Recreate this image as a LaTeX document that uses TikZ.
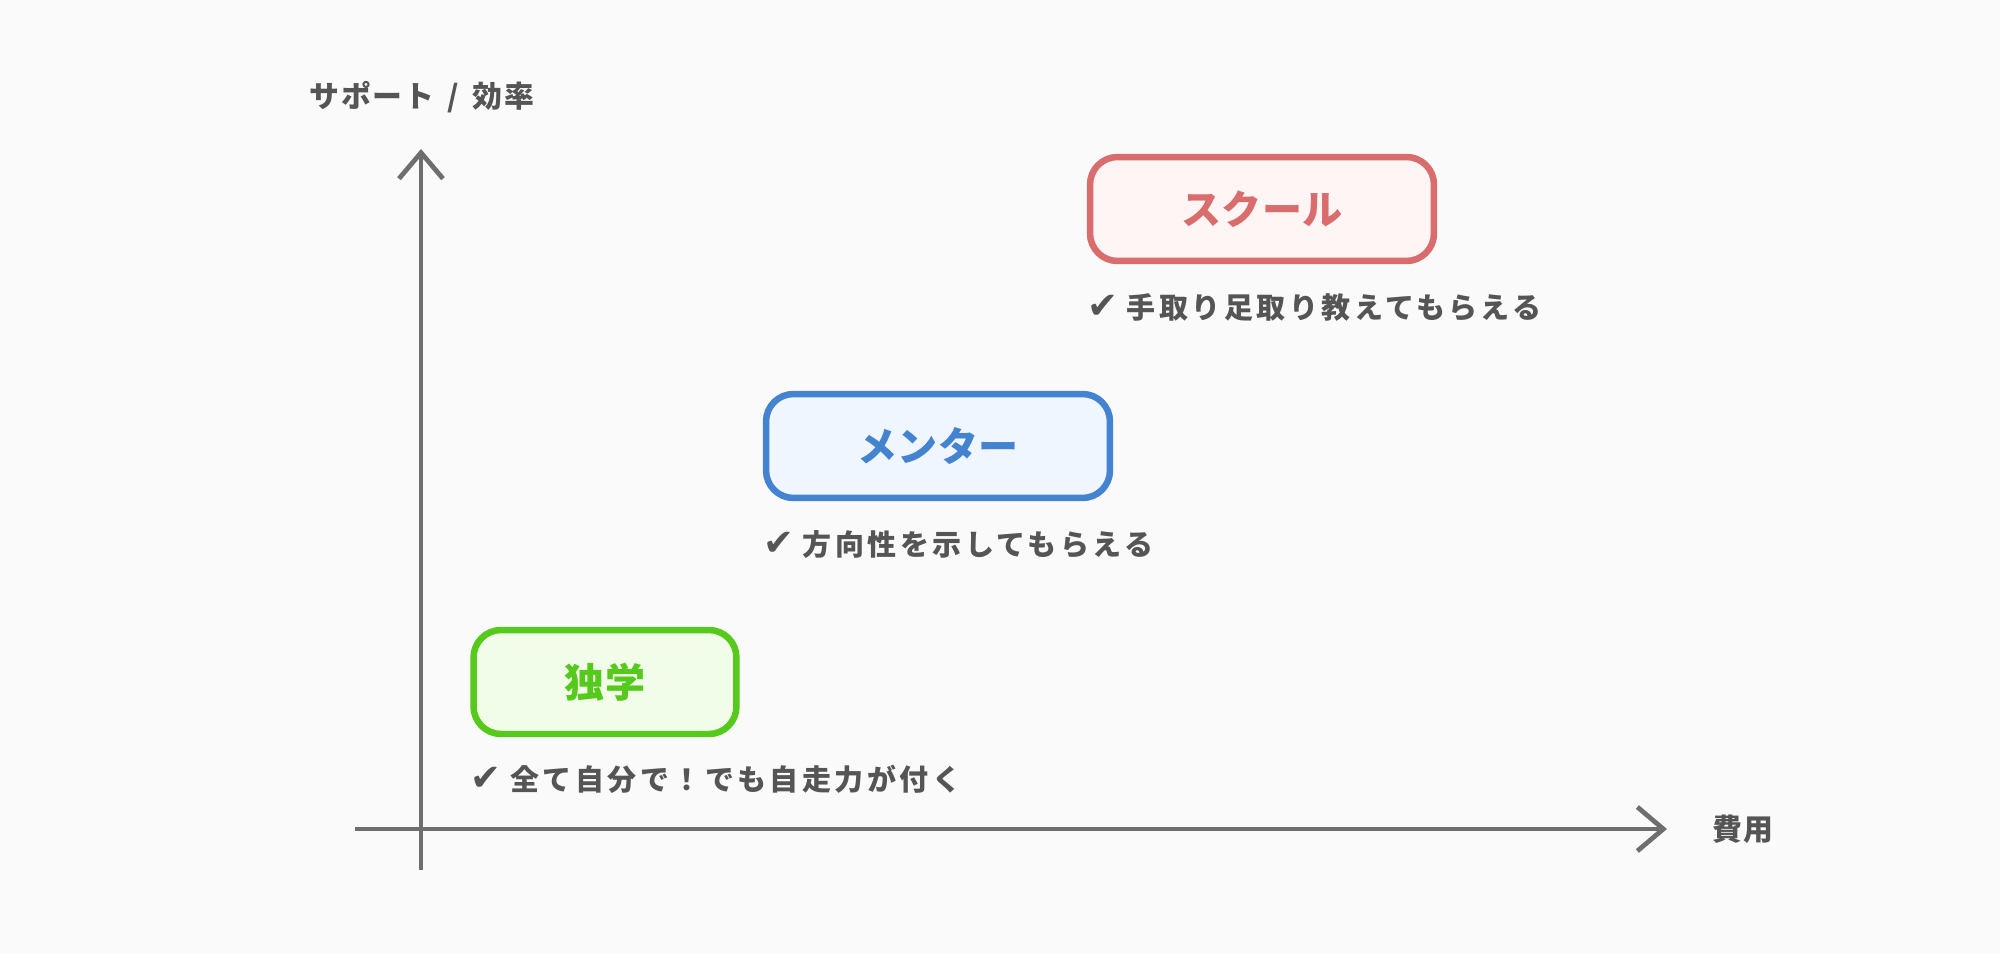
\documentclass[tikz,border=0pt]{standalone}
\usepackage{fontspec}
\usetikzlibrary{arrows.meta,positioning}
\newfontfamily\jpfont{Noto Sans CJK JP Black}
\newfontfamily\symfont{DejaVu Sans}
\definecolor{schoolred}{HTML}{D96C6C}
\definecolor{schoolfill}{HTML}{FFF5F5}
\definecolor{mentorblue}{HTML}{4383CF}
\definecolor{mentorfill}{HTML}{EFF6FF}
\definecolor{selfgreen}{HTML}{55C91C}
\definecolor{selffill}{HTML}{F2FDE9}
\definecolor{inkgray}{HTML}{555555}
\definecolor{axisgray}{HTML}{6E6E6E}
\definecolor{bggray}{HTML}{FAFAFA}
\newcommand{\chk}{{\symfont\fontsize{21pt}{20pt}\selectfont ✔}\hspace{0.3em}}

\begin{document}
\begin{tikzpicture}[x=0.02cm, y=-0.02cm,
	    box/.style={rectangle, rounded corners=0.55cm, line width=0.13cm, minimum height=2.08cm, font=\jpfont\fontsize{22.8pt}{27pt}\selectfont},
	    check/.style={anchor=west, text=inkgray, inner sep=0pt, font=\jpfont\fontsize{16.5pt}{20pt}\selectfont\addfontfeature{LetterSpace=12}},
	    axis/.style={draw=axisgray, line width=0.095cm, -{Straight Barb[length=0.52cm, width=0.88cm]}},
	    axislabel/.style={text=inkgray, font=\jpfont\fontsize{17pt}{20pt}\selectfont\addfontfeature{LetterSpace=6}}]
	    
	    \fill[bggray] (0,0) rectangle (2000,953);
	    \useasboundingbox (0,0) rectangle (2000,953);
	    
	    \node [box, draw=selfgreen, fill=selffill, text=selfgreen, minimum width=5.26cm] (self) at (605,682) {独学};
	    \node [box, draw=mentorblue, fill=mentorfill, text=mentorblue, minimum width=6.88cm] (mentor) at (938,446) {メンター};
	    \node [box, draw=schoolred, fill=schoolfill, text=schoolred, minimum width=6.88cm] (school) at (1262,209) {スクール};
	    
	    \node [check] (selfnote) at ([yshift=-0.84cm]self.south west) {\chk 全て自分で！でも自走力が付く};
	    \node [check] (mentornote) at ([yshift=-0.86cm]mentor.south west) {\chk 方向性を示してもらえる};
	    \node [check] (schoolnote) at ([yshift=-0.86cm]school.south west) {\chk 手取り足取り教えてもらえる};
	    
	    \coordinate (xstart) at (355,829);
	    \coordinate (xend) at (1667,829);
	    \coordinate (ystart) at (421,870);
	    \coordinate (yend) at (421,149);
	    \path [axis] (xstart) -- (xend);
	    \path [axis] (ystart) -- (yend);
	    
	    \node [axislabel, anchor=west] (xlabel) at (1706,829) {費用};
	    \node [axislabel] (ylabel) at (422,97) {サポート\hspace{0.45em}/\hspace{0.45em}効率};
	\end{tikzpicture}
\end{document}
